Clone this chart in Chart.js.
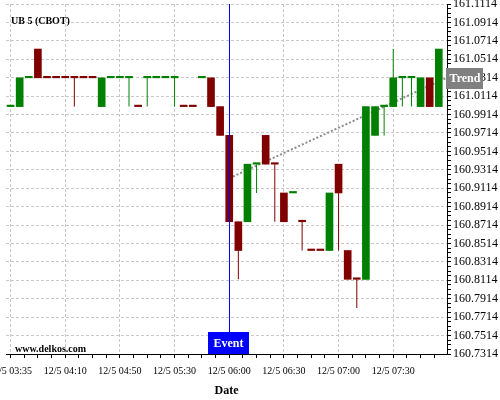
<!DOCTYPE html>
<html>
<head>
<meta charset="utf-8">
<script src="https://cdn.jsdelivr.net/npm/chart.js@4.4.0/dist/chart.umd.min.js"></script>
<style>
  html, body { margin: 0; padding: 0; background: #fff; }
</style>
</head>
<body>
<canvas id="chartUB" width="500" height="400"></canvas>
<script>
// candle data, one per bar (5 min bars, UB futures in 1/32)
const openP = [161.0, 161.0, 161.03125, 161.0625, 161.03125, 161.03125, 161.03125, 161.03125, 161.03125, 161.03125,
  161.0, 161.03125, 161.03125, 161.03125, 161.0, 161.03125, 161.03125, 161.03125, 161.03125, 161.0,
  161.0, 161.03125, 161.03125, 161.0, 160.96875, 160.875, 160.875, 160.9375, 160.96875, 160.9375,
  160.90625, 160.90625, 160.875, 160.84375, 160.84375, 160.84375, 160.9375, 160.84375, 160.8125, 160.8125,
  160.96875, 161.0, 161.0, 161.03125, 161.03125, 161.0, 161.03125, 161.0]
const highP = [161.0, 161.03125, 161.03125, 161.0625, 161.03125, 161.03125, 161.03125, 161.03125, 161.03125, 161.03125,
  161.03125, 161.03125, 161.03125, 161.03125, 161.0, 161.03125, 161.03125, 161.03125, 161.03125, 161.0,
  161.0, 161.03125, 161.03125, 161.0, 160.96875, 160.875, 160.9375, 160.9375, 160.96875, 160.9375,
  160.90625, 160.90625, 160.875, 160.84375, 160.84375, 160.90625, 160.9375, 160.84375, 160.8125, 161.0,
  161.0, 161.0, 161.0625, 161.03125, 161.03125, 161.03125, 161.03125, 161.0625]
const lowP = [161.0, 161.0, 161.03125, 161.03125, 161.03125, 161.03125, 161.03125, 161.0, 161.03125, 161.03125,
  161.0, 161.03125, 161.03125, 161.0, 161.0, 161.0, 161.03125, 161.03125, 161.0, 161.0,
  161.0, 161.03125, 161.0, 160.96875, 160.875, 160.8125, 160.875, 160.90625, 160.9375, 160.875,
  160.875, 160.90625, 160.84375, 160.84375, 160.84375, 160.84375, 160.84375, 160.8125, 160.78125, 160.8125,
  160.96875, 160.96875, 161.0, 161.0, 161.0, 161.0, 161.0, 161.0]
const closeP = [161.0, 161.03125, 161.03125, 161.03125, 161.03125, 161.03125, 161.03125, 161.03125, 161.03125, 161.03125,
  161.03125, 161.03125, 161.03125, 161.03125, 161.0, 161.03125, 161.03125, 161.03125, 161.03125, 161.0,
  161.0, 161.03125, 161.0, 160.96875, 160.875, 160.84375, 160.9375, 160.9375, 160.9375, 160.9375,
  160.875, 160.90625, 160.875, 160.84375, 160.84375, 160.90625, 160.90625, 160.8125, 160.8125, 161.0,
  161.0, 161.0, 161.03125, 161.03125, 161.03125, 161.03125, 161.0, 161.0625]

const xTickLabels = ['12/5 03:35', '12/5 04:10', '12/5 04:50', '12/5 05:30', '12/5 06:00', '12/5 06:30', '12/5 07:00', '12/5 07:30']
const tickEvery = 6
const yTicks = [160.7314, 160.7514, 160.7714, 160.7914, 160.8114, 160.8314, 160.8514, 160.8714, 160.8914, 160.9114,
  160.9314, 160.9514, 160.9714, 160.9914, 161.0114, 161.0314, 161.0514, 161.0714, 161.0914, 161.1114]

const trendX = [24.4, 47.8]
const trendY = [160.924, 161.031]
const eventIndex = 24

const UP = '#008000'
const DOWN = '#800000'
const SERIF = '"Liberation Serif", "Times New Roman", serif'

// color: close vs open, then close vs previous close, else keep previous
let colors = []
closeP.forEach((c, i) => {
  let o = openP[i]
  let col
  if (c > o) col = UP
  else if (c < o) col = DOWN
  else if (i > 0 && c > closeP[i - 1]) col = UP
  else if (i > 0 && c < closeP[i - 1]) col = DOWN
  else col = i > 0 ? colors[i - 1] : UP
  colors.push(col)
})

const bodies = openP.map((o, i) => ({ x: i, y: [o, closeP[i]] }))
const wicks = lowP.map((l, i) => ({ x: i, y: [l, highP[i]] }))
const trend = trendX.map((x, i) => ({ x: x, y: trendY[i] }))

const overlay = {
  id: 'overlay',
  afterDatasetsDraw (chart) {
    const { ctx, chartArea, scales } = chart
    const x = scales.x
    const y = scales.y
    ctx.save()

    // event marker
    const ex = Math.round(x.getPixelForValue(eventIndex)) + 0.5
    const boxH = 22
    const boxW = 41
    ctx.strokeStyle = '#0000ff'
    ctx.lineWidth = 1
    ctx.beginPath()
    ctx.moveTo(ex, chartArea.top)
    ctx.lineTo(ex, chartArea.bottom - boxH)
    ctx.stroke()
    ctx.fillStyle = '#0000ff'
    ctx.fillRect(Math.round(ex - boxW / 2) - 1, chartArea.bottom - boxH, boxW, boxH)
    ctx.fillStyle = '#fff'
    ctx.font = 'bold 12px ' + SERIF
    ctx.textAlign = 'center'
    ctx.textBaseline = 'middle'
    ctx.fillText('Event', ex - 1, chartArea.bottom - boxH / 2 + 1)

    // trend label on the axis
    const ty = y.getPixelForValue(trendY[trendY.length - 1])
    ctx.fillStyle = '#808080'
    ctx.fillRect(chartArea.right - 1, Math.round(ty - 10.5), 37, 21)
    ctx.fillStyle = '#fff'
    ctx.fillText('Trend', chartArea.right + 18, ty + 1)

    // titles
    ctx.fillStyle = '#000'
    ctx.font = 'bold 10px ' + SERIF
    ctx.textAlign = 'left'
    ctx.fillText('UB 5 (CBOT)', 11, 21)
    ctx.fillText('www.delkos.com', 15, 349)
    ctx.restore()
  }
}

const ctx = document.getElementById('chartUB')
new Chart(ctx, {
  type: 'bar',
  data: {
    datasets: [
      {
        type: 'line',
        data: trend,
        borderColor: '#8c8c8c',
        borderWidth: 2,
        borderDash: [2, 2],
        pointRadius: 0,
        order: 3
      },
      {
        data: wicks,
        backgroundColor: colors,
        barThickness: 1,
        inflateAmount: 0,
        grouped: false,
        order: 1
      },
      {
        data: bodies,
        backgroundColor: colors,
        barThickness: 7,
        minBarLength: 1.5,
        grouped: false,
        order: 0
      }
    ]
  },
  plugins: [overlay],
  options: {
    responsive: false,
    animation: false,
    layout: { padding: { left: 6, top: 4, right: 0, bottom: 0 } },
    plugins: { legend: { display: false }, tooltip: { enabled: false } },
    scales: {
      x: {
        type: 'linear',
        min: -0.5,
        max: 47.9,
        offset: false,
        afterBuildTicks: (s) => {
          let t = []
          for (let v = 0; v < 47.9; v += tickEvery / 4) t.push({ value: v, major: v % tickEvery === 0 })
          s.ticks = t
        },
        afterFit: (s) => { s.height = 46; s.paddingLeft = 0; s.paddingRight = 0 },
        ticks: {
          autoSkip: false,
          maxRotation: 0,
          padding: 7,
          color: '#000',
          font: { family: SERIF, size: 10 },
          callback: (v) => v % tickEvery === 0 ? xTickLabels[v / tickEvery] : ''
        },
        grid: {
          offset: false,
          color: (c) => c.tick && c.tick.major ? '#c8c8c8' : 'rgba(0,0,0,0)',
          tickColor: '#000',
          tickLength: 4
        },
        border: { display: true, color: '#000', width: 1, dash: [3, 2] },
        title: {
          display: true,
          text: 'Date',
          color: '#000',
          font: { family: SERIF, size: 12, weight: 'bold' },
          padding: { top: 0, bottom: 2 }
        }
      },
      y: {
        type: 'linear',
        position: 'right',
        min: yTicks[0],
        max: yTicks[yTicks.length - 1],
        beginAtZero: false,
        afterBuildTicks: (s) => {
          let t = []
          yTicks.forEach((v, i) => {
            t.push({ value: v, major: true })
            if (i < yTicks.length - 1) {
              for (let k = 1; k < 4; k++) t.push({ value: v + (yTicks[i + 1] - v) * k / 4, major: false })
            }
          })
          s.ticks = t
        },
        afterFit: (s) => { s.width = 53; s.paddingTop = 0; s.paddingBottom = 0 },
        ticks: {
          autoSkip: false,
          padding: 2,
          color: '#000',
          font: { family: SERIF, size: 12 },
          callback: function (v, i, t) { return t[i].major ? v.toFixed(4) : '' }
        },
        grid: {
          color: (c) => c.tick && c.tick.major ? '#c8c8c8' : 'rgba(0,0,0,0)',
          tickColor: '#000',
          tickLength: 4
        },
        border: { display: true, color: '#000', width: 1, dash: [3, 2] }
      }
    }
  }
})
</script>
</body>
</html>
